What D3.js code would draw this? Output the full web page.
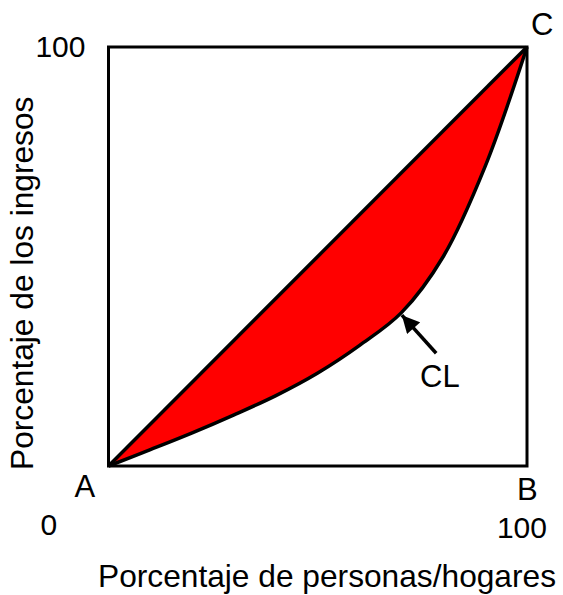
<!DOCTYPE html>
<html lang="en">
<head>
<meta charset="utf-8">
<script src="https://cdn.jsdelivr.net/npm/d3@7"></script>
<style>
  body { margin: 0; background: #fff; }
  text { font-family: "Liberation Sans", Arial, sans-serif; fill: #000; }
</style>
</head>
<body>
<div id="chart"></div>
<script>
// Lorenz curve (percent of people vs percent of income)
var lorenzX = [0, 10, 20, 30, 40, 50, 60, 70, 80, 90, 100];
var lorenzY = [0, 3.9, 7.9, 12.2, 16.8, 22.2, 28.8, 36.6, 50, 71.5, 100];

var cornerLabels = ["A", "B", "C"];
var tickLabels = ["0", "100"];
var xTitle = "Porcentaje de personas/hogares";
var yTitle = "Porcentaje de los ingresos";
var curveLabel = "CL";

var W = 563, H = 595;
var svg = d3.select("#chart").append("svg")
    .attr("width", W).attr("height", H);

var x = d3.scaleLinear().domain([0, 100]).range([108.5, 527]);
var y = d3.scaleLinear().domain([0, 100]).range([466, 47]);

var pts = lorenzX.map(function(v, i) { return [v, lorenzY[i]]; });

// red area between equality line and lorenz curve
var area = d3.area()
    .x(function(d) { return x(d[0]); })
    .y0(function(d) { return y(d[1]); })
    .y1(function(d) { return y(d[0]); })
    .curve(d3.curveCatmullRom.alpha(0.5));

svg.append("path")
    .datum(pts)
    .attr("d", area)
    .attr("fill", "#ff0000");

// frame
svg.append("rect")
    .attr("x", x(0)).attr("y", y(100))
    .attr("width", x(100) - x(0)).attr("height", y(0) - y(100))
    .attr("fill", "none").attr("stroke", "#000").attr("stroke-width", 3);

// equality line
svg.append("line")
    .attr("x1", x(0)).attr("y1", y(0))
    .attr("x2", x(100)).attr("y2", y(100))
    .attr("stroke", "#000").attr("stroke-width", 3.5);

// lorenz curve
var line = d3.line()
    .x(function(d) { return x(d[0]); })
    .y(function(d) { return y(d[1]); })
    .curve(d3.curveCatmullRom.alpha(0.5));

svg.append("path")
    .datum(pts)
    .attr("d", line)
    .attr("fill", "none")
    .attr("stroke", "#000")
    .attr("stroke-width", 3.5);

// arrow pointing at the curve
svg.append("defs").append("marker")
    .attr("id", "head")
    .attr("viewBox", "0 0 10 10")
    .attr("refX", 10).attr("refY", 5)
    .attr("markerWidth", 5.5).attr("markerHeight", 5)
    .attr("orient", "auto")
  .append("path")
    .attr("d", "M0,0 L10,5 L0,10 Z")
    .attr("fill", "#000");

svg.append("line")
    .attr("x1", x(78.3)).attr("y1", y(26.9))
    .attr("x2", x(70.1)).attr("y2", y(36))
    .attr("stroke", "#000").attr("stroke-width", 3.5)
    .attr("marker-end", "url(#head)");

var fs = "31px";

svg.append("text").attr("x", 420).attr("y", 387)
    .style("font-size", fs).text(curveLabel);

// corner letters
svg.append("text").attr("x", x(0) - 34).attr("y", y(0) + 31)
    .style("font-size", fs).text(cornerLabels[0]);
svg.append("text").attr("x", x(100) - 10).attr("y", y(0) + 34)
    .style("font-size", fs).text(cornerLabels[1]);
svg.append("text").attr("x", x(100) + 4).attr("y", y(100) - 12)
    .style("font-size", fs).text(cornerLabels[2]);

// tick labels
svg.append("text").attr("x", x(0) - 68).attr("y", y(0) + 69)
    .style("font-size", "30px").text(tickLabels[0]);
svg.append("text").attr("x", x(100) + 20).attr("y", y(0) + 72)
    .attr("text-anchor", "end")
    .style("font-size", "30px").text(tickLabels[1]);
svg.append("text").attr("x", x(0) - 23).attr("y", y(100) + 10)
    .attr("text-anchor", "end")
    .style("font-size", "30px").text(tickLabels[1]);

// axis titles
svg.append("text").attr("x", 98).attr("y", 587)
    .style("font-size", "31.7px").text(xTitle);
svg.append("text")
    .attr("transform", "translate(33,470) rotate(-90)")
    .style("font-size", "31.7px").text(yTitle);
</script>
</body>
</html>
